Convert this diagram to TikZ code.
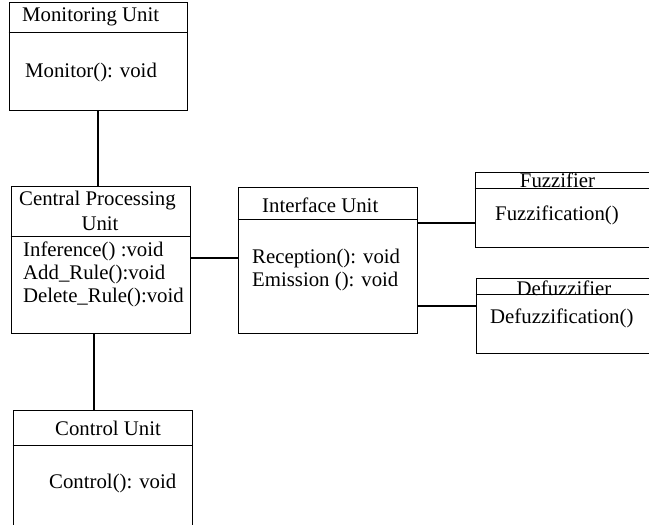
\documentclass[tikz,border=0pt]{standalone}
\usepackage{fontspec}
\setmainfont{Liberation Serif}
\begin{document}
\begin{tikzpicture}[x=1pt,y=-1pt,
  classbox/.style={draw, line width=0.9pt, rectangle, inner sep=0pt},
  divider/.style={line width=0.9pt},
  link/.style={line width=1.8pt},
  lbl/.style={inner sep=0pt, anchor=west, font=\fontsize{20.8}{23}\selectfont},
  ttl/.style={inner sep=0pt, font=\fontsize{20.8}{23}\selectfont},
]
\useasboundingbox (0,0) rectangle (649,525);
\clip (0,0) rectangle (649,525);

% class boxes
\node[classbox, minimum width=178pt, minimum height=108pt] (mon)   at (98,56)     {};
\node[classbox, minimum width=179pt, minimum height=147pt] (cpu)   at (100.5,259.5) {};
\node[classbox, minimum width=179pt, minimum height=146pt] (iface) at (327.5,260) {};
\node[classbox, minimum width=190pt, minimum height=75pt]  (fuz)   at (570,209.5) {};
\node[classbox, minimum width=189pt, minimum height=75pt]  (defuz) at (570.5,315.5) {};
\node[classbox, minimum width=179pt, minimum height=125pt] (ctl)   at (102.5,472.5) {};

% compartment dividers
\draw[divider] (mon.west |- 0,32)    -- (mon.east |- 0,32);
\draw[divider] (cpu.west |- 0,236)   -- (cpu.east |- 0,236);
\draw[divider] (iface.west |- 0,219) -- (iface.east |- 0,219);
\draw[divider] (fuz.west |- 0,188)   -- (fuz.east |- 0,188);
\draw[divider] (defuz.west |- 0,294) -- (defuz.east |- 0,294);
\draw[divider] (ctl.west |- 0,445)   -- (ctl.east |- 0,445);

% titles and operations
\node[lbl] (monT) at (22,17) {Monitoring Unit};
\node[lbl] (monO) at (25,72) {Monitor(): void};

\node[lbl] (cpuT1) at (19,201) {Central Processing};
\node[ttl] (cpuT2) at (100,224) {Unit};
\node[lbl] (cpuO1) at (23,251) {Inference() :void};
\node[lbl] (cpuO2) at (23,274) {Add\_Rule():void};
\node[lbl] (cpuO3) at (23,297) {Delete\_Rule():void};

\node[lbl] (ifT)  at (262,205) {Interface Unit};
\node[lbl] (ifO1) at (252,258) {Reception(): void};
\node[lbl] (ifO2) at (252,281) {Emission (): void};

\node[ttl] (fuzT) at (557.5,180) {Fuzzifier};
\node[lbl] (fuzO) at (495,215) {Fuzzification()};

\node[ttl] (defT) at (564,288) {Defuzzifier};
\node[lbl] (defO) at (490,318) {Defuzzification()};

\node[lbl] (ctlT) at (55,428) {Control Unit};
\node[lbl] (ctlO) at (49,483) {Control(): void};

% associations
\draw[link] (mon.south) -- (mon.south |- cpu.north);
\draw[link] ([xshift=-6.5pt]cpu.south) -- ([xshift=-6.5pt]cpu.south |- ctl.north);
\draw[link] (cpu.east |- 0,258) -- (iface.west |- 0,258);
\draw[link] (iface.east |- 0,223) -- (fuz.west |- 0,223);
\draw[link] (iface.east |- 0,306) -- (defuz.west |- 0,306);
\end{tikzpicture}
\end{document}
